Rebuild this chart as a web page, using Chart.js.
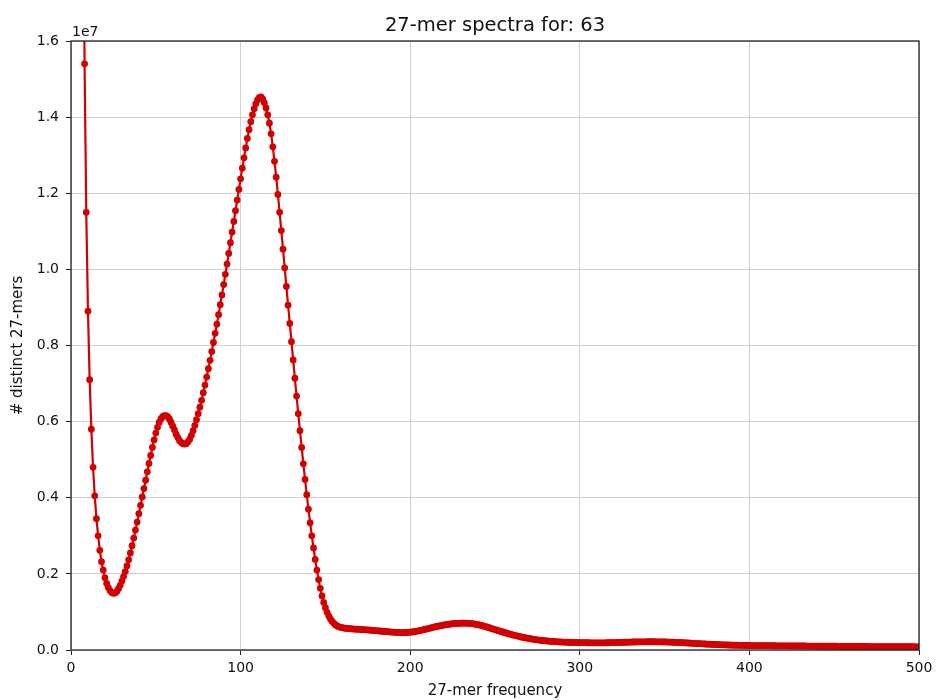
<!DOCTYPE html>
<html>
<head>
<meta charset="utf-8">
<title>27-mer spectra for: 63</title>
<script src="https://cdn.jsdelivr.net/npm/chart.js@4.4.0/dist/chart.umd.min.js"></script>
<style>
  html, body { margin: 0; padding: 0; background: #fff; }
  canvas { display: block; }
</style>
</head>
<body>
<canvas id="spectra" width="938" height="700"></canvas>
<script>
// k-mer multiplicity histogram, one value per frequency starting at firstFreq
var firstFreq = 7;

// number of distinct 27-mers, in millions
var distinctMillions = [
  22.0, 15.4, 11.5, 8.9, 7.1, 5.8, 4.8, 4.05, 3.45, 3.0,            // 7-16
  2.62, 2.32, 2.1, 1.9, 1.75, 1.64, 1.56, 1.51, 1.49, 1.5,          // 17-26
  1.54, 1.61, 1.7, 1.81, 1.93, 2.06, 2.21, 2.37, 2.55, 2.74,        // 27-36
  2.94, 3.15, 3.36, 3.58, 3.8, 4.02, 4.24, 4.46, 4.68, 4.9,         // 37-46
  5.11, 5.32, 5.52, 5.7, 5.85, 5.98, 6.07, 6.13, 6.16, 6.16,        // 47-56
  6.13, 6.07, 5.98, 5.88, 5.78, 5.67, 5.58, 5.5, 5.45, 5.42,        // 57-66
  5.41, 5.42, 5.47, 5.54, 5.64, 5.76, 5.9, 6.05, 6.21, 6.38,        // 67-76
  6.56, 6.76, 6.96, 7.17, 7.39, 7.61, 7.84, 8.08, 8.32, 8.56,       // 77-86
  8.81, 9.07, 9.33, 9.6, 9.87, 10.14, 10.42, 10.7, 10.98, 11.26,    // 87-96
  11.54, 11.82, 12.1, 12.38, 12.66, 12.93, 13.19, 13.44, 13.67, 13.88, // 97-106
  14.06, 14.22, 14.35, 14.45, 14.51, 14.53, 14.48, 14.38, 14.24, 14.06, // 107-116
  13.84, 13.56, 13.22, 12.84, 12.42, 11.97, 11.5, 11.02, 10.53, 10.04, // 117-126
  9.55, 9.06, 8.58, 8.1, 7.62, 7.14, 6.67, 6.21, 5.76, 5.32,        // 127-136
  4.89, 4.48, 4.08, 3.7, 3.34, 3.0, 2.68, 2.38, 2.1, 1.85,          // 137-146
  1.62, 1.42, 1.25, 1.11, 0.99, 0.89, 0.81, 0.75, 0.7, 0.66,        // 147-156
  0.63, 0.61, 0.595, 0.585, 0.577, 0.571, 0.566, 0.562, 0.558, 0.555, // 157-166
  0.551, 0.548, 0.545, 0.542, 0.539, 0.536, 0.533, 0.53, 0.527, 0.523, // 167-176
  0.519, 0.515, 0.511, 0.507, 0.503, 0.499, 0.495, 0.491, 0.487, 0.483, // 177-186
  0.479, 0.475, 0.471, 0.468, 0.465, 0.462, 0.46, 0.459, 0.458, 0.458, // 187-196
  0.459, 0.461, 0.464, 0.468, 0.473, 0.479, 0.486, 0.494, 0.503, 0.513, // 197-206
  0.524, 0.535, 0.546, 0.557, 0.568, 0.579, 0.59, 0.601, 0.611, 0.621, // 207-216
  0.631, 0.64, 0.649, 0.657, 0.665, 0.672, 0.678, 0.684, 0.689, 0.693, // 217-226
  0.697, 0.7, 0.702, 0.704, 0.705, 0.705, 0.704, 0.702, 0.699, 0.695, // 227-236
  0.689, 0.682, 0.674, 0.665, 0.655, 0.644, 0.632, 0.619, 0.606, 0.592, // 237-246
  0.578, 0.564, 0.55, 0.536, 0.522, 0.508, 0.494, 0.48, 0.466, 0.453, // 247-256
  0.44, 0.427, 0.415, 0.403, 0.391, 0.38, 0.369, 0.358, 0.348, 0.338, // 257-266
  0.329, 0.32, 0.311, 0.303, 0.295, 0.288, 0.281, 0.274, 0.268, 0.262, // 267-276
  0.256, 0.251, 0.246, 0.241, 0.237, 0.233, 0.229, 0.225, 0.222, 0.219, // 277-286
  0.216, 0.213, 0.211, 0.209, 0.207, 0.205, 0.203, 0.202, 0.2, 0.199, // 287-296
  0.198, 0.197, 0.196, 0.195, 0.194, 0.193, 0.192, 0.191, 0.19, 0.189, // 297-306
  0.189, 0.188, 0.188, 0.188, 0.188, 0.188, 0.188, 0.189, 0.189, 0.19, // 307-316
  0.191, 0.192, 0.193, 0.194, 0.195, 0.197, 0.198, 0.2, 0.201, 0.203, // 317-326
  0.204, 0.206, 0.207, 0.208, 0.21, 0.211, 0.212, 0.213, 0.214, 0.215, // 327-336
  0.215, 0.216, 0.216, 0.217, 0.217, 0.217, 0.217, 0.217, 0.216, 0.216, // 337-346
  0.215, 0.214, 0.213, 0.212, 0.211, 0.209, 0.208, 0.206, 0.204, 0.202, // 347-356
  0.2, 0.198, 0.196, 0.194, 0.191, 0.189, 0.186, 0.184, 0.181, 0.178, // 357-366
  0.176, 0.173, 0.17, 0.168, 0.165, 0.163, 0.16, 0.158, 0.155, 0.153, // 367-376
  0.151, 0.149, 0.147, 0.145, 0.143, 0.141, 0.139, 0.137, 0.136, 0.134, // 377-386
  0.133, 0.131, 0.13, 0.128, 0.127, 0.126, 0.125, 0.124, 0.123, 0.122, // 387-396
  0.121, 0.12, 0.119, 0.118, 0.117, 0.117, 0.117, 0.116, 0.116, 0.115, // 397-406
  0.115, 0.115, 0.114, 0.114, 0.113, 0.113, 0.113, 0.112, 0.112, 0.111, // 407-416
  0.111, 0.111, 0.11, 0.11, 0.109, 0.109, 0.109, 0.108, 0.108, 0.107, // 417-426
  0.107, 0.107, 0.106, 0.106, 0.105, 0.105, 0.105, 0.104, 0.104, 0.103, // 427-436
  0.103, 0.103, 0.102, 0.102, 0.101, 0.101, 0.101, 0.1, 0.1, 0.099,   // 437-446
  0.099, 0.099, 0.098, 0.098, 0.098, 0.097, 0.097, 0.097, 0.096, 0.096, // 447-456
  0.096, 0.095, 0.095, 0.095, 0.094, 0.094, 0.094, 0.093, 0.093, 0.093, // 457-466
  0.092, 0.092, 0.092, 0.091, 0.091, 0.091, 0.091, 0.09, 0.09, 0.09,  // 467-476
  0.089, 0.089, 0.089, 0.089, 0.088, 0.088, 0.088, 0.088, 0.087, 0.087, // 477-486
  0.087, 0.087, 0.086, 0.086, 0.086, 0.086, 0.085, 0.085, 0.085, 0.085, // 487-496
  0.085, 0.084, 0.084, 0.084                                          // 497-500
];

var xTicks = [0, 100, 200, 300, 400, 500];
var yTicks = [0, 0.2, 0.4, 0.6, 0.8, 1.0, 1.2, 1.4, 1.6]; // x 1e7

var points = distinctMillions.map(function (v, i) {
  return { x: firstFreq + i, y: v * 1e6 };
});

Chart.defaults.font.family = "'DejaVu Sans', sans-serif";
Chart.defaults.color = "#111";

// matplotlib-like box around the axes plus the offset label
var framePlugin = {
  id: "frame",
  afterDraw: function (chart) {
    var a = chart.chartArea;
    var ctx = chart.ctx;
    ctx.save();
    ctx.strokeStyle = "#222";
    ctx.lineWidth = 1.3;
    ctx.strokeRect(a.left, a.top, a.right - a.left, a.bottom - a.top);
    ctx.fillStyle = "#111";
    ctx.font = "14px 'DejaVu Sans'";
    ctx.textAlign = "left";
    ctx.textBaseline = "alphabetic";
    ctx.fillText("1e7", a.left + 1, a.top - 5);
    ctx.restore();
  },
};

var red = "#d20000";

new Chart(document.getElementById("spectra").getContext("2d"), {
  type: "line",
  data: {
    datasets: [
      {
        label: "63",
        data: points,
        borderColor: red,
        borderWidth: 2.2,
        backgroundColor: red,
        pointBackgroundColor: red,
        pointBorderColor: red,
        pointBorderWidth: 0,
        pointRadius: 3.4,
        tension: 0,
        fill: false,
      },
    ],
  },
  options: {
    responsive: false,
    animation: false,
    devicePixelRatio: 1,
    layout: {
      padding: { left: 0, right: 19, top: 0, bottom: 0 },
    },
    plugins: {
      legend: { display: false },
      tooltip: { enabled: false },
      title: {
        display: true,
        text: "27-mer spectra for: 63",
        fullSize: false,
        color: "#111",
        font: { size: 19.5, weight: "normal" },
        padding: { top: 14, bottom: 3.6 },
      },
    },
    scales: {
      x: {
        type: "linear",
        min: 0,
        max: 500,
        afterBuildTicks: function (axis) {
          axis.ticks = xTicks.map(function (v) { return { value: v }; });
        },
        afterFit: function (scale) {
          scale.height = 50;
        },
        border: { display: false },
        grid: {
          color: "#d0d0d0",
          lineWidth: 1,
          drawTicks: true,
          tickLength: 5,
          tickColor: "#222",
        },
        ticks: {
          padding: 5,
          maxRotation: 0,
          font: { size: 14 },
          color: "#111",
        },
        title: {
          display: true,
          text: "27-mer frequency",
          color: "#111",
          font: { size: 15 },
          padding: { top: 0, bottom: 0 },
        },
      },
      y: {
        type: "linear",
        min: 0,
        max: 1.6e7,
        afterBuildTicks: function (axis) {
          axis.ticks = yTicks.map(function (v) { return { value: v * 1e7 }; });
        },
        afterFit: function (scale) {
          scale.width = 71;
        },
        border: { display: false },
        grid: {
          color: "#d0d0d0",
          lineWidth: 1,
          drawTicks: true,
          tickLength: 5,
          tickColor: "#222",
        },
        ticks: {
          padding: 7,
          font: { size: 14 },
          color: "#111",
          callback: function (value) {
            return (value / 1e7).toFixed(1);
          },
        },
        title: {
          display: true,
          text: "# distinct 27-mers",
          color: "#111",
          font: { size: 15 },
          padding: { top: 9, bottom: 0 },
        },
      },
    },
  },
  plugins: [framePlugin],
});
</script>
</body>
</html>
